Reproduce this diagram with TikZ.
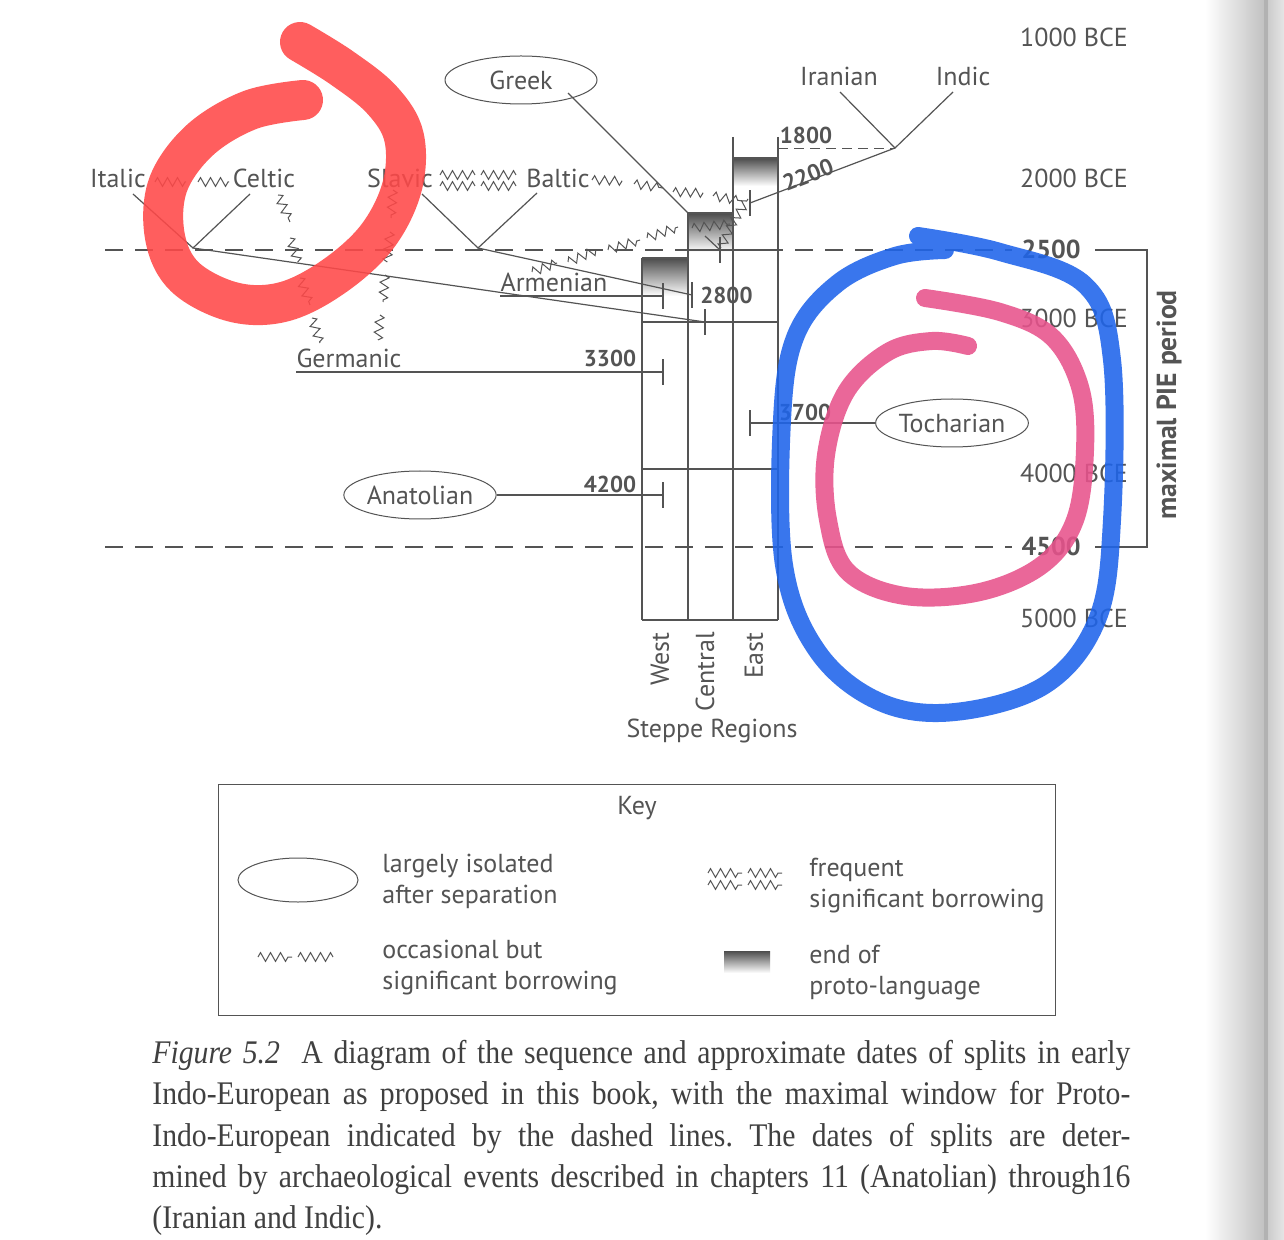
\documentclass[tikz,border=0pt]{standalone}
\usepackage{fontspec}
\setmainfont{PT Sans}
\newfontfamily\capfont[FakeStretch=0.9]{Liberation Serif}
\usetikzlibrary{decorations.pathmorphing,shapes.geometric,positioning}

\definecolor{ink}{gray}{0.33}
\definecolor{penred}{RGB}{255,72,72}
\definecolor{penblue}{RGB}{30,100,235}
\definecolor{penpink}{RGB}{232,82,140}

\tikzset{
  lab/.style={text=ink, font=\fontsize{13}{15.5}\selectfont, inner sep=1pt},
  yr/.style={text=ink, font=\bfseries\fontsize{11.5}{14}\selectfont, inner sep=1pt},
  iso/.style={ellipse, draw=ink, line width=0.5pt, text=ink, inner sep=0.3pt,
    font=\fontsize{13}{15.5}\selectfont, minimum width=76pt, minimum height=24pt},
  branch/.style={draw=ink, line width=0.6pt},
  borrow/.style={draw=ink, line width=0.5pt, decorate,
    decoration={zigzag, segment length=5pt, amplitude=2.2pt}},
  tickmark/.style={draw=ink, line width=0.7pt},
  piedash/.style={draw=ink, line width=0.6pt, dash pattern=on 9pt off 6pt},
  endbox/.style={top color=black!70, bottom color=white},
  penloop/.style={line width=#1, line cap=round, line join=round, opacity=0.88},
}

\begin{document}
\begin{tikzpicture}[x=0.5pt,y=-0.5pt]
\useasboundingbox (0,0) rectangle (1284,1240);
\fill[white] (0,0) rectangle (1284,1240);
% page edge
\shade[left color=white, right color=black!24] (1205,0) rectangle (1264,1240);
\fill[black!30] (1264,0) rectangle (1268,1240);
\shade[left color=black!20, right color=black!10] (1268,0) rectangle (1284,1240);

% time scale
\node[lab] (t1000) at (1074,37) {1000 BCE};
\node[lab] (t2000) at (1074,178) {2000 BCE};
\node[yr, font=\bfseries\fontsize{13}{15}\selectfont] (t2500) at (1051,249) {2500};
\node[lab] (t3000) at (1074,318) {3000 BCE};
\node[lab] (t4000) at (1074,473) {4000 BCE};
\node[yr, font=\bfseries\fontsize{13}{15}\selectfont] (t4500) at (1051,546) {4500};
\node[lab] (t5000) at (1074,618) {5000 BCE};

% maximal window
\draw[piedash] (105,250) -- (1012,250);
\draw[piedash] (105,547) -- (1012,547);
\coordinate (br1) at (1095,250);
\coordinate (br2) at (1095,547);
\draw[branch] (br1) -- (1147,250) -- (1147,547) -- (br2);
\node[text=ink, font=\bfseries\fontsize{13.8}{15}\selectfont, rotate=90] (pie) at (1169,405) {maximal PIE period};

% steppe regions
\shade[endbox] (642,258) rectangle (688,296);
\shade[endbox] (688,213) rectangle (733,252);
\shade[endbox] (733,158) rectangle (778,186);
\foreach \x/\t in {642/258,688/213,733/137,778/137}
  \draw[branch] (\x,\t) -- (\x,620);
\draw[branch] (642,620) -- (778,620);
\draw[branch] (642,258) -- (688,258);
\draw[branch] (688,213) -- (733,213);
\draw[branch] (733,158) -- (778,158);
\draw[branch] (688,250) -- (778,250);
\foreach \y in {322,469}
  \draw[branch] (642,\y) -- (778,\y);
\node[lab, rotate=90, anchor=east] (west) at (660,630) {West};
\node[lab, rotate=90, anchor=east] (central) at (705,630) {Central};
\node[lab, rotate=90, anchor=east] (east) at (754,630) {East};
\node[lab] (steppe) at (712,731) {Steppe Regions};

% languages
\node[lab] (italic) at (118,178) {Italic};
\node[lab] (celtic) at (264,178) {Celtic};
\node[lab] (slavic) at (400,178) {Slavic};
\node[lab] (baltic) at (558,178) {Baltic};
\node[lab] (armenian) at (554,282) {Armenian};
\node[lab] (germanic) at (349,358) {Germanic};
\node[iso] (greek) at (521,80) {Greek};
\node[iso] (anatolian) at (420,495) {Anatolian};
\node[iso] (tocharian) at (952,423) {Tocharian};
\node[lab] (iranian) at (839,76) {Iranian};
\node[lab] (indic) at (963,76) {Indic};

% splits
\coordinate (ic) at (193,248);
\coordinate (sb) at (478,248);
\coordinate (ii) at (895,148);
\coordinate (kIC) at (705,322);
\coordinate (kSB) at (692,295);
\coordinate (kArm) at (663,296);
\coordinate (kGer) at (663,372);
\coordinate (kAna) at (663,495);
\coordinate (kToc) at (750,423);
\coordinate (kII) at (750,203);
\coordinate (kGrk) at (688,213);
\coordinate (kCen) at (720,250);
\draw[branch] (133,194) -- (ic) -- (250,194);
\draw[branch] (422,194) -- (sb) -- (537,193);
\draw[branch] (840,92) -- (ii) -- (953,92);
\draw[branch] (ic) -- (kIC);
\draw[branch] (sb) -- (kSB);
\draw[branch] (500,296) -- (kArm);
\draw[branch] (296,372) -- (kGer);
\draw[branch] (anatolian) -- (kAna);
\draw[branch] (tocharian) -- (kToc);
\draw[branch] (568,93) -- (kGrk);
\draw[branch] (ii) -- (kII);
\draw[branch] (705,236) -- (kCen);
\draw[branch, dash pattern=on 5pt off 3pt, line width=0.45pt] (778,148) -- (ii);
\foreach \k in {kIC,kSB,kArm,kGer,kAna,kToc,kII,kCen}
  \draw[tickmark] ([yshift=-6.5pt]\k) -- ([yshift=6.5pt]\k);

% dates
\node[yr, right=3pt of kSB] (d2800) {2800};
\node[yr] (d3300) at (610,358) {3300};
\node[yr] (d4200) at (610,484) {4200};
\node[yr] (d3700) at (805,412) {3700};
\node[yr] (d1800) at (806,135) {1800};
\node[yr, rotate=21, inner sep=0pt] (d2200) at (808,175) {2200};

% borrowing
\draw[borrow] (155,182) -- (186,182);
\draw[borrow] (198,182) -- (229,182);
\foreach \y in {175,186}{
  \draw[borrow] (440,\y) -- (475,\y);
  \draw[borrow] (481,\y) -- (516,\y);
}
\draw[borrow] (592,180) -- (622,181);
\draw[borrow] (634,184) -- (663,188);
\draw[borrow] (673,192) -- (703,193);
\draw[borrow] (713,196) -- (742,201);
\draw[borrow] (532,272) -- (557,263);
\draw[borrow] (568,262) -- (597,250);
\draw[borrow] (608,250) -- (640,240);
\draw[borrow] (647,238) -- (678,227);
\draw[borrow] (692,228) -- (730,224);
\draw[borrow] (721,248) -- (734,220);
\draw[borrow] (733,222) -- (748,199);
\draw[borrow] (278,195) -- (290,222);
\draw[borrow] (290,238) -- (298,262);
\draw[borrow] (300,278) -- (310,305);
\draw[borrow] (312,318) -- (320,343);
\draw[borrow] (393,190) -- (391,218);
\draw[borrow] (390,232) -- (387,262);
\draw[borrow] (385,275) -- (383,302);
\draw[borrow] (380,315) -- (378,340);

% key
\draw[branch, line width=0.5pt] (218,784) rectangle (1055,1015);
\node[lab] (key) at (637,808) {Key};
\node[ellipse, draw=ink, line width=0.5pt, minimum width=60pt, minimum height=22pt] (keyiso) at (298,880) {};
\node[lab, anchor=west, align=left] (keyisot) at (380,881) {largely isolated\\after separation};
\draw[borrow] (258,957) -- (292,957);
\draw[borrow] (298,957) -- (333,957);
\node[lab, anchor=west, align=left] (keyocct) at (380,968) {occasional but\\significant borrowing};
\foreach \y in {873,885}{
  \draw[borrow] (708,\y) -- (742,\y);
  \draw[borrow] (748,\y) -- (782,\y);
}
\node[lab, anchor=west, align=left] (keyfrqt) at (807,886) {frequent\\significant borrowing};
\shade[endbox] (724,951) rectangle (770,973);
\node[lab, anchor=west, align=left] (keyendt) at (807,973) {end of\\proto-language};

% caption
\node[anchor=north west, align=left, inner sep=0pt, text=black!75,
  font=\capfont\fontsize{16.5}{20.6}\selectfont\frenchspacing] (caption) at (152,1040) {%
  \makebox[489pt][s]{\textit{Figure 5.2} \ A diagram of the sequence and approximate dates of splits in early}\\
  \makebox[489pt][s]{Indo-European as proposed in this book, with the maximal window for Proto-}\\
  \makebox[489pt][s]{Indo-European indicated by the dashed lines. The dates of splits are deter-}\\
  \makebox[489pt][s]{mined by archaeological events described in chapters 11 (Anatolian) through16}\\
  (Iranian and Indic).};

% hand-drawn marks
\draw[penred, penloop=20pt] plot[smooth, tension=0.6] coordinates {(303,100) (250,110) (200,140) (168,185) (165,237) (185,277) (233,302) (283,302) (333,277) (377,237) (402,187) (404,137) (382,100) (342,68) (300,42)};
\draw[penblue, penloop=9pt] plot[smooth, tension=0.6] coordinates {(918,236) (1000,252) (1085,285) (1112,360) (1112,520) (1097,620) (1045,685) (955,712) (880,702) (818,652) (784,565) (782,420) (796,335) (838,283) (895,256) (945,250)};
\draw[penpink, penloop=9pt] plot[smooth, tension=0.6] coordinates {(925,298) (1000,312) (1052,337) (1080,387) (1085,450) (1075,520) (1042,565) (980,592) (905,596) (848,572) (828,520) (826,455) (846,392) (888,352) (932,341) (968,346)};
\end{tikzpicture}
\end{document}
